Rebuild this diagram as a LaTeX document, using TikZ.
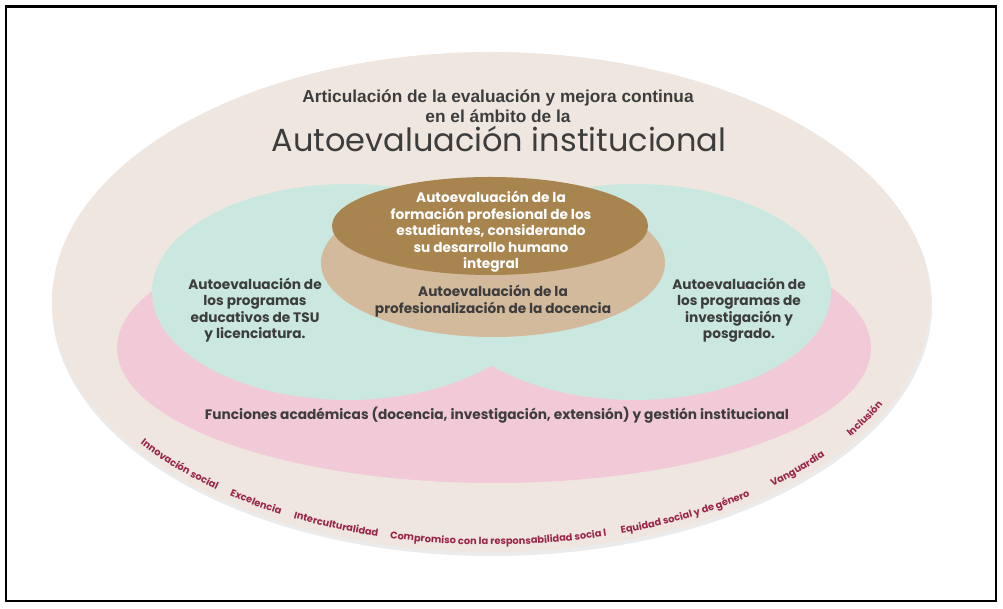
\documentclass[tikz,border=0pt]{standalone}
\usepackage{fontspec}
\usetikzlibrary{decorations.text}

\newfontfamily\headfont{Liberation Sans}
\newfontfamily\bodyfont{Poppins}

\definecolor{outerbg}{HTML}{EFE7DF}
\definecolor{funcpink}{HTML}{F2C9D7}
\definecolor{progteal}{HTML}{CAE7E0}
\definecolor{docentan}{HTML}{D3BA9C}
\definecolor{formbrown}{HTML}{A8844F}
\definecolor{textgray}{HTML}{3D3D3D}
\definecolor{labelred}{HTML}{9B2449}

\begin{document}
\begin{tikzpicture}[x=1pt,y=1pt,
    bodytext/.style={align=center, text=textgray,
      font=\bodyfont\bfseries\fontsize{13.7}{16.5}\selectfont},
    headtext/.style={anchor=base, text=textgray,
      font=\headfont\bfseries\fontsize{17.3}{20}\selectfont},
    valuelabel/.style={decorate, decoration={text along path,
      text/.expanded={|\noexpand\bodyfont\noexpand\bfseries\noexpand\fontsize{9.8}{11}\noexpand\selectfont\noexpand\color{labelred}|#1},
      text align=center}}
  ]
    \useasboundingbox (0,0) rectangle (1003,609);
    \draw[line width=2.2pt] (6,8) rectangle (996,602.5);

    % shadow and outer ring
    \fill[black!8] (492,304) ellipse [x radius=440, y radius=251];
    \fill[outerbg] (491,307) ellipse [x radius=439, y radius=250];

    % inner sets
    \fill[funcpink]  (494,261) ellipse [x radius=377, y radius=135];
    \fill[progteal]  (348,317) ellipse [x radius=196, y radius=108];
    \fill[progteal]  (635,317) ellipse [x radius=196, y radius=108];
    \fill[docentan]  (493,346) ellipse [x radius=172, y radius=74];
    \fill[formbrown] (490,383) ellipse [x radius=158, y radius=49];

    % titles
    \node[headtext] (title-a) at (498,506) {Articulación de la evaluación y mejora continua};
    \node[headtext] (title-b) at (498,486) {en el ámbito de la};
    \node[anchor=base, text=textgray, font=\bodyfont\fontsize{32}{36}\selectfont]
      (title-c) at (499,457) {Autoevaluación institucional};

    \node[bodytext, text=white] (formacion) at (491,377)
      {Autoevaluación de la\\formación profesional de los\\estudiantes, considerando\\su desarrollo humano\\integral};
    \node[bodytext] (docencia) at (493,308)
      {Autoevaluación de la\\profesionalización de la docencia};
    \node[bodytext] (tsu) at (255,299)
      {Autoevaluación de\\los programas\\educativos de TSU\\y licenciatura.};
    \node[bodytext] (posgrado) at (739,299)
      {Autoevaluación de\\los programas de\\investigación y\\posgrado.};
    \node[bodytext] (funciones) at (497,194)
      {Funciones académicas (docencia, investigación, extensión) y gestión institucional};

    % values along the rim
    \foreach \a/\s/\v in {222.5/14/Innovación social, 236.5/10/Excelencia, 248.5/13/Interculturalidad,
                          271/17/Compromiso con la responsabilidad socia l, 297.5/14/Equidad social y de género,
                          316/10/Vanguardia, 331/9/Inclusión}
      {\path[valuelabel=\v] (491,307) ++(\a-\s:432 and 243)
         arc[start angle=\a-\s, end angle=\a+\s, x radius=432, y radius=243];};
\end{tikzpicture}
\end{document}
